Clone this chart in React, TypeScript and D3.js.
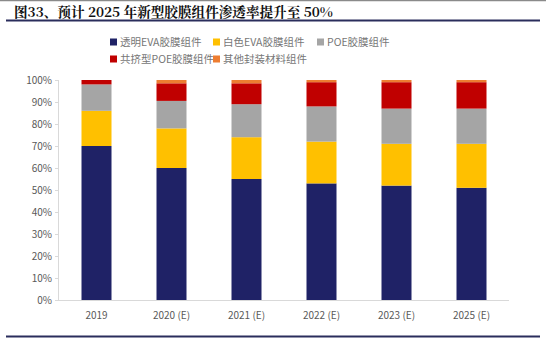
import React from "react";
import * as d3 from "d3";

const categories = ["2019", "2020 (E)", "2021 (E)", "2022 (E)", "2023 (E)", "2025 (E)"];
const seriesNames = ["透明EVA胶膜组件", "白色EVA胶膜组件", "POE胶膜组件", "共挤型POE胶膜组件", "其他封装材料组件"];
const seriesColors = ["#1F2266", "#FFC000", "#A5A5A5", "#C00000", "#ED7D31"];
const clearEVA = [70, 60, 55, 53, 52, 51];
const whiteEVA = [16, 18, 19, 19, 19, 20];
const poe = [12, 12.5, 15, 16, 16, 16];
const coPOE = [2, 8, 9.5, 11, 12, 12];
const others = [0, 1.5, 1.5, 1, 1, 1];
const yTicks = [0, 10, 20, 30, 40, 50, 60, 70, 80, 90, 100];
const title = "图33、预计 2025 年新型胶膜组件渗透率提升至 50%";

export default function App() {
  const W = 550, H = 338;
  const left = 59, right = 509, top = 80, bottom = 300;
  const x = d3.scaleBand().domain(categories).range([left, right]).paddingInner(0.6).paddingOuter(0.3);
  const y = d3.scaleLinear().domain([0, 100]).range([bottom, top]);
  const rows = categories.map((c, i) => ({
    cat: c, s0: clearEVA[i], s1: whiteEVA[i], s2: poe[i], s3: coPOE[i], s4: others[i],
  }));
  const stack = d3.stack<any>().keys(["s0", "s1", "s2", "s3", "s4"])(rows);
  const font = "'Noto Sans CJK SC', 'Noto Sans', sans-serif";
  const legendPos = [
    [110, 42], [213, 42], [317, 42], [110, 59], [213, 59],
  ];
  return (
    <svg width={W} height={H} style={{ position: "absolute", left: 0, top: 0, background: "#fff" }}>
      <rect x={0} y={0} width={W} height={H} fill="#fff" />
      <line x1={0} x2={546} y1={0.5} y2={0.5} stroke="#8a8a8a" strokeWidth={1.5} />
      <text x={14} y={17} fontFamily="'Noto Serif CJK SC', 'Noto Sans CJK SC', serif" fontWeight="bold" fontSize={13.6} fill="#111">
        {title}
      </text>
      <line x1={6} x2={540} y1={20.5} y2={20.5} stroke="#2a2d5c" strokeWidth={2} />
      <line x1={6} x2={540} y1={336.5} y2={336.5} stroke="#2a2d5c" strokeWidth={2} />
      {seriesNames.map((n, i) => (
        <g key={n}>
          <rect x={legendPos[i][0]} y={legendPos[i][1] - 3.5} width={7} height={7} fill={seriesColors[i]} />
          <text x={legendPos[i][0] + 10} y={legendPos[i][1] + 4} fontFamily={font} fontSize={10.5} fill="#777">{n}</text>
        </g>
      ))}
      <line x1={58.5} x2={58.5} y1={top} y2={bottom} stroke="#d9d9d9" />
      <line x1={58} x2={right} y1={bottom + 0.5} y2={bottom + 0.5} stroke="#d9d9d9" />
      {yTicks.map((t) => (
        <g key={t}>
          <line x1={55} x2={58.5} y1={y(t) + 0.5} y2={y(t) + 0.5} stroke="#d9d9d9" />
          <text x={52} y={y(t) + 3.5} textAnchor="end" fontFamily={font} fontSize={10} fill="#595959">{t}%</text>
        </g>
      ))}
      {stack.map((layer, si) => (
        <g key={si} fill={seriesColors[si]}>
          {layer.map((d: any) => (
            <rect key={d.data.cat} x={x(d.data.cat)} width={x.bandwidth()} y={y(d[1])} height={Math.max(0, y(d[0]) - y(d[1]))} />
          ))}
        </g>
      ))}
      {categories.map((c) => (
        <text key={c} x={(x(c) as number) + x.bandwidth() / 2} y={319} textAnchor="middle" fontFamily={font} fontSize={10} fill="#595959">{c}</text>
      ))}
    </svg>
  );
}
